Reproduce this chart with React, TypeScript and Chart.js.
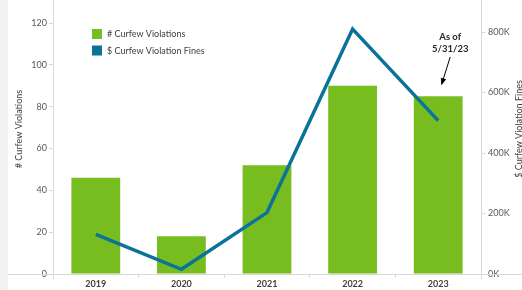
import React, { useEffect, useRef } from "react";
import { Chart, registerables } from "chart.js";

Chart.register(...registerables);

const categories = ["2019", "2020", "2021", "2022", "2023"];
const violations = [46, 18, 52, 90, 85];
const fines = [131000, 15500, 203000, 810000, 507000];
const leftTicks = [0, 20, 40, 60, 80, 100, 120];
const rightTicks = [0, 200000, 400000, 600000, 800000];
const seriesNames = ["# Curfew Violations", "$ Curfew Violation Fines"];
const axisTitles = ["# Curfew Violations", "$ Curfew Violation Fines"];
const noteLines = ["As of", "5/31/23"];

const GREEN = "#78bd20";
const BLUE = "#0a7399";
const AXIS = "#d9d9d9";
const FONT = "Lato, 'Open Sans', sans-serif";

const overlay = {
  id: "overlay",
  afterDraw(chart: any) {
    const { ctx, chartArea, scales } = chart;
    const x = scales.x;
    const y = scales.y;
    ctx.save();
    ctx.strokeStyle = AXIS;
    ctx.lineWidth = 1;
    ctx.beginPath();
    ctx.moveTo(8, chartArea.bottom + 0.5);
    ctx.lineTo(chart.width, chartArea.bottom + 0.5);
    ctx.stroke();
    ctx.beginPath();
    ctx.moveTo(Math.round(chartArea.left) + 0.5, 0);
    ctx.lineTo(Math.round(chartArea.left) + 0.5, chartArea.bottom + 5);
    ctx.moveTo(Math.round(chartArea.right) + 0.5, 0);
    ctx.lineTo(Math.round(chartArea.right) + 0.5, chartArea.bottom + 5);
    ctx.stroke();

    ctx.fillStyle = "#404040";
    ctx.font = `9px ${FONT}`;
    ctx.textAlign = "center";
    ctx.textBaseline = "middle";
    const midY = (chartArea.top + chartArea.bottom) / 2 - 8;
    ctx.save();
    ctx.translate(19, midY);
    ctx.rotate(-Math.PI / 2);
    ctx.fillText(axisTitles[0], 0, 0);
    ctx.restore();
    ctx.save();
    ctx.translate(519.5, midY);
    ctx.rotate(-Math.PI / 2);
    ctx.fillText(axisTitles[1], 0, 0);
    ctx.restore();

    const lx = chartArea.left + 39;
    const ly = chartArea.top + 29;
    const colors = [GREEN, BLUE];
    ctx.textAlign = "left";
    ctx.font = `9px ${FONT}`;
    seriesNames.forEach((n, i) => {
      ctx.fillStyle = colors[i];
      ctx.fillRect(lx, ly + i * 16.5, 10, 10);
      ctx.fillStyle = "#404040";
      ctx.fillText(n, lx + 15, ly + i * 16.5 + 5.5);
    });

    const last = categories.length - 1;
    const cx = x.getPixelForValue(last) + 12;
    ctx.fillStyle = "#262626";
    ctx.font = `bold 9.5px ${FONT}`;
    ctx.textAlign = "center";
    ctx.fillText(noteLines[0], cx, 37);
    ctx.fillText(noteLines[1], cx, 49);
    const ax0 = cx;
    const ay0 = 57;
    const ax1 = x.getPixelForValue(last) + 3.5;
    const ay1 = y.getPixelForValue(violations[last]) - 12;
    ctx.strokeStyle = "#000";
    ctx.lineWidth = 1;
    ctx.beginPath();
    ctx.moveTo(ax0, ay0);
    ctx.lineTo(ax1, ay1);
    ctx.stroke();
    const ang = Math.atan2(ay1 - ay0, ax1 - ax0);
    const hl = 6;
    const hw = 2.8;
    ctx.fillStyle = "#000";
    ctx.beginPath();
    ctx.moveTo(ax1 + Math.cos(ang) * 1, ay1 + Math.sin(ang) * 1);
    ctx.lineTo(ax1 - Math.cos(ang) * hl + Math.sin(ang) * hw, ay1 - Math.sin(ang) * hl - Math.cos(ang) * hw);
    ctx.lineTo(ax1 - Math.cos(ang) * hl - Math.sin(ang) * hw, ay1 - Math.sin(ang) * hl + Math.cos(ang) * hw);
    ctx.closePath();
    ctx.fill();
    ctx.restore();
  },
};

export default function App() {
  const ref = useRef<HTMLCanvasElement>(null);
  useEffect(() => {
    if (!ref.current) return;
    const chart = new Chart(ref.current, {
      type: "bar",
      data: {
        labels: categories,
        datasets: [
          {
            type: "line",
            label: seriesNames[1],
            data: fines,
            yAxisID: "y1",
            borderColor: BLUE,
            backgroundColor: BLUE,
            borderWidth: 3.5,
            pointRadius: 0,
            tension: 0,
            order: 0,
          } as any,
          {
            type: "bar",
            label: seriesNames[0],
            data: violations,
            yAxisID: "y",
            backgroundColor: GREEN,
            barPercentage: 0.57,
            categoryPercentage: 1,
            order: 1,
          },
        ],
      },
      options: {
        animation: false,
        responsive: false,
        maintainAspectRatio: false,
        layout: { padding: 0 },
        plugins: { legend: { display: false }, tooltip: { enabled: false } },
        scales: {
          x: {
            offset: true,
            grid: {
              display: true,
              drawOnChartArea: false,
              offset: true,
              color: AXIS,
              tickLength: 4,
            },
            border: { display: false },
            ticks: {
              color: "#404040",
              font: { family: FONT, size: 9, weight: "bold" },
              padding: 1,
              maxRotation: 0,
            },
            afterFit(s: any) {
              s.height = 16;
            },
          },
          y: {
            position: "left",
            min: 0,
            max: 131,
            grid: { display: true, drawOnChartArea: false, color: AXIS, tickLength: 4 },
            border: { display: false },
            ticks: {
              color: "#595959",
              font: { family: FONT, size: 9 },
              padding: 2,
            },
            afterBuildTicks(s: any) {
              s.ticks = leftTicks.map((v) => ({ value: v }));
            },
            afterFit(s: any) {
              s.width = 53;
              s.paddingTop = 0;
              s.paddingBottom = 0;
            },
          },
          y1: {
            position: "right",
            min: 0,
            max: 906000,
            grid: { display: true, drawOnChartArea: false, color: AXIS, tickLength: 4 },
            border: { display: false },
            ticks: {
              color: "#595959",
              font: { family: FONT, size: 9 },
              padding: 3,
              callback: (v: any) => `${Math.round(Number(v) / 1000)}K`,
            },
            afterBuildTicks(s: any) {
              s.ticks = rightTicks.map((v) => ({ value: v }));
            },
            afterFit(s: any) {
              s.width = 41;
              s.paddingTop = 0;
              s.paddingBottom = 0;
            },
          },
        },
      },
      plugins: [overlay],
    });
    return () => chart.destroy();
  }, []);
  return (
    <div style={{ position: "fixed", left: 0, top: 0, width: 522, height: 290, background: "#fff" }}>
      <div style={{ position: "absolute", left: 0, top: 0, width: 8, height: 290, background: "#f2f2f2" }} />
      <canvas ref={ref} width={522} height={290} style={{ position: "absolute", left: 0, top: 0 }} />
    </div>
  );
}
